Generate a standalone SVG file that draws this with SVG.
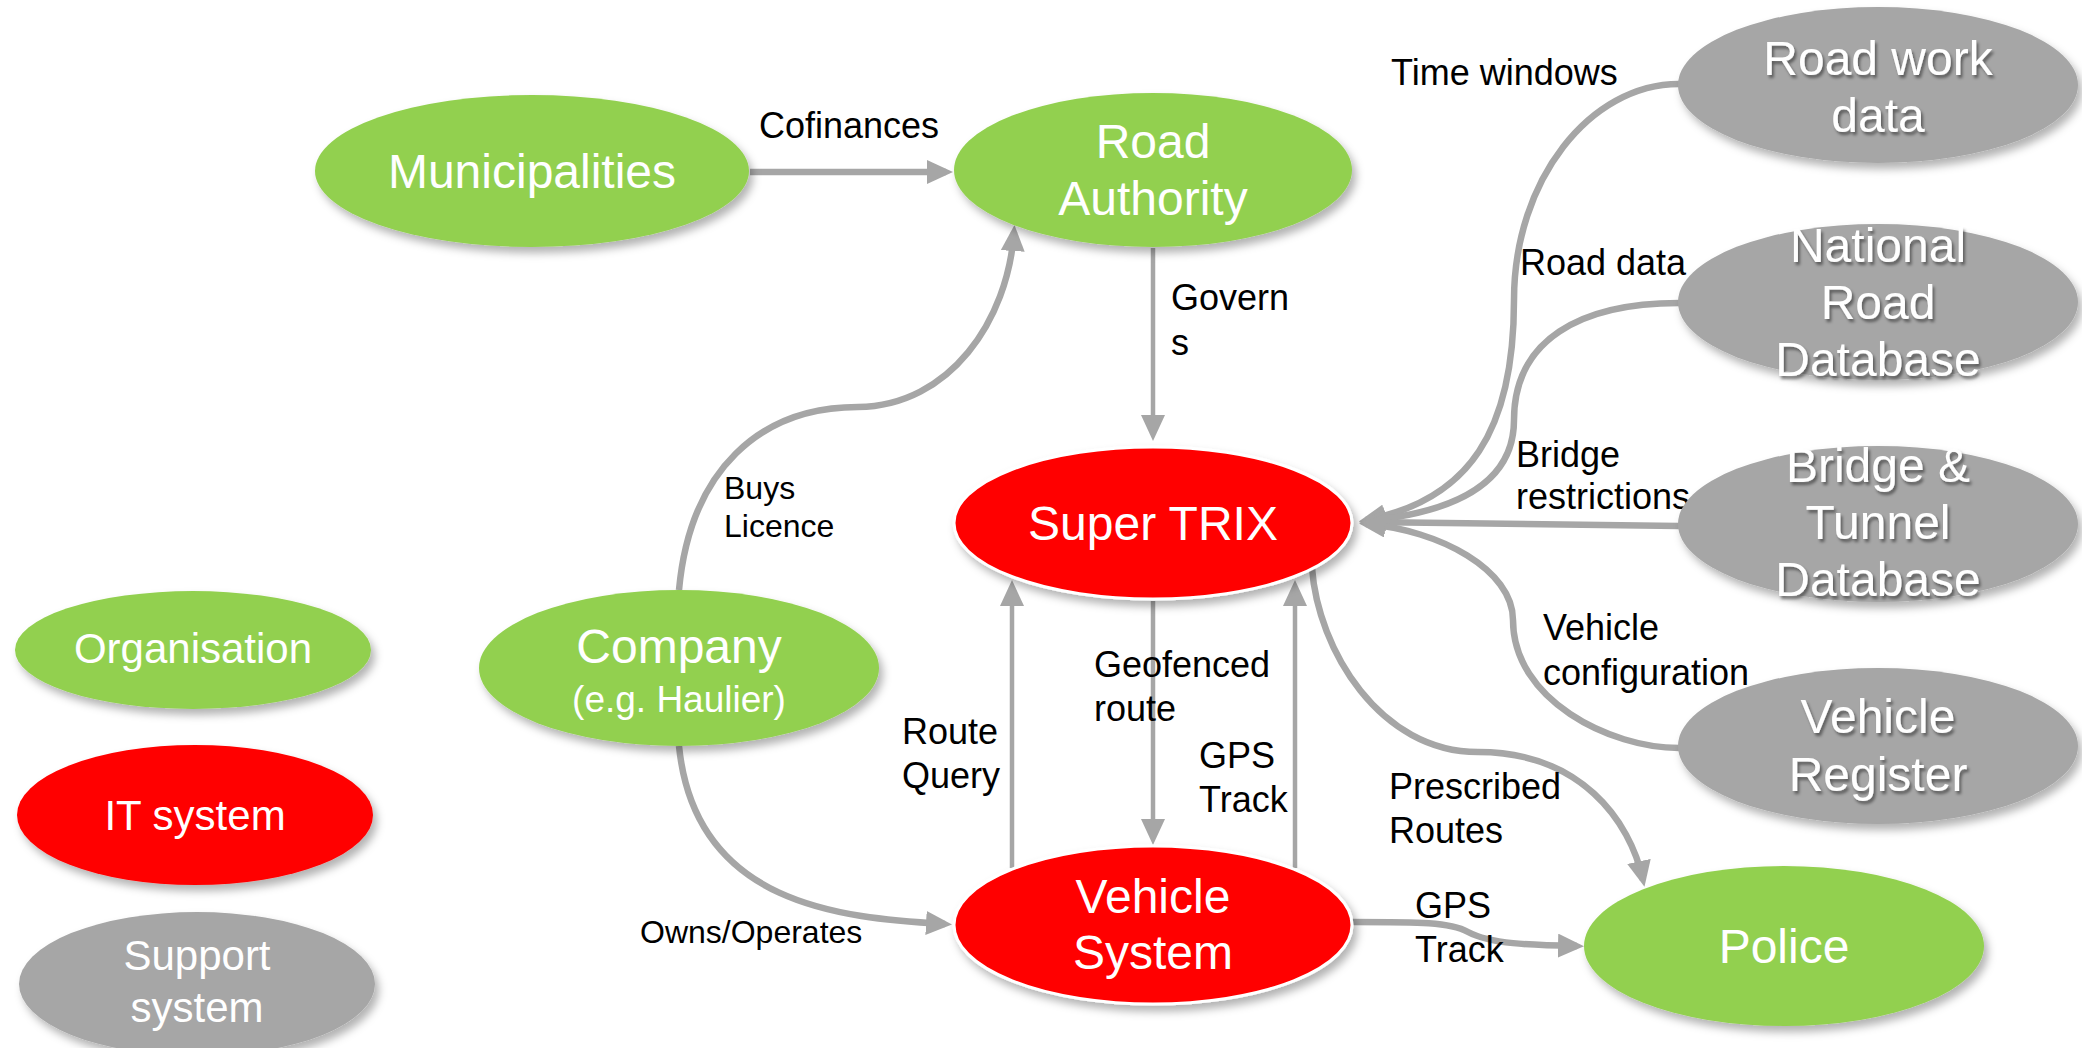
<svg xmlns="http://www.w3.org/2000/svg" width="2082" height="1048" viewBox="0 0 2082 1048">
  <defs>
    <filter id="shadow" x="-10%" y="-10%" width="125%" height="135%">
      <feGaussianBlur in="SourceAlpha" stdDeviation="4"/>
      <feOffset dx="4" dy="6" result="blur"/>
      <feFlood flood-color="#000" flood-opacity="0.3"/>
      <feComposite in2="blur" operator="in"/>
      <feMerge><feMergeNode/><feMergeNode in="SourceGraphic"/></feMerge>
    </filter>
    <filter id="textShadow" x="-10%" y="-20%" width="125%" height="150%">
      <feGaussianBlur in="SourceAlpha" stdDeviation="1.5"/>
      <feOffset dx="2" dy="3" result="blur"/>
      <feFlood flood-color="#000" flood-opacity="0.45"/>
      <feComposite in2="blur" operator="in"/>
      <feMerge><feMergeNode/><feMergeNode in="SourceGraphic"/></feMerge>
    </filter>
    <marker id="arrow" markerUnits="userSpaceOnUse" markerWidth="26" markerHeight="24" refX="19" refY="12" orient="auto">
      <path d="M0,0 L26,12 L0,24 Z" fill="#A6A6A6"/>
    </marker>
    <style>
      .org { fill: #92D050; filter: url(#shadow); }
      .it { fill: #FF0000; stroke: #FFFFFF; stroke-width: 3; filter: url(#shadow); }
      .sup { fill: #A6A6A6; filter: url(#shadow); }
      .nt { font-family: "Liberation Sans", Arial, sans-serif; font-size: 48px; fill: #FFFFFF; text-anchor: middle; }
      .sub { font-size: 37px; }
      .leg { font-size: 42px; }
      .st { filter: url(#textShadow); }
      .lbl { font-family: "Liberation Sans", Arial, sans-serif; font-size: 36px; fill: #000000; }
      .sm { font-size: 32px; }
      .c { fill: none; stroke: #A6A6A6; stroke-width: 6.5; marker-end: url(#arrow); }
      .thin { stroke-width: 4.5; }
    </style>
  </defs>

  <rect width="2082" height="1048" fill="#FFFFFF"/>

  <!-- connectors -->
  <g id="connectors">
    <path class="c" d="M750,172 L946,172"/>
    <path class="c thin" d="M1153,248 L1153,434"/>
    <path class="c" d="M679,590 C690,470 760,407 858,407 C950,406 1008,320 1014,232"/>
    <path class="c" d="M679,746 C695,905 840,918 945,924"/>
    <path class="c thin" d="M1012,868 L1012,587"/>
    <path class="c thin" d="M1153,601 L1153,838"/>
    <path class="c thin" d="M1295,868 L1295,587"/>
    <path class="c" d="M1352,922 C1420,922 1450,922 1468,932 C1490,944 1530,945 1577,946"/>
    <path class="c" d="M1312,568 C1318,650 1380,752 1478,752 C1580,752 1630,820 1643,880"/>
    <path class="c" d="M1679,84 C1590,84 1514,180 1514,300 C1514,430 1470,500 1366,520"/>
    <path class="c" d="M1679,303 C1580,303 1514,340 1514,420 C1514,480 1460,512 1366,521"/>
    <path class="c" d="M1679,526 L1366,522"/>
    <path class="c" d="M1679,748 C1610,748 1513,700 1513,620 C1513,570 1440,530 1366,524"/>
  </g>

  <!-- connector labels -->
  <g id="labels">
    <text class="lbl" x="759" y="138">Cofinances</text>
    <text class="lbl" x="1171" y="310">Govern</text>
    <text class="lbl" x="1171" y="355">s</text>
    <text class="lbl sm" x="724" y="499">Buys</text>
    <text class="lbl sm" x="724" y="537">Licence</text>
    <text class="lbl sm" x="640" y="943">Owns/Operates</text>
    <text class="lbl" x="902" y="744">Route</text>
    <text class="lbl" x="902" y="788">Query</text>
    <text class="lbl" x="1094" y="677">Geofenced</text>
    <text class="lbl" x="1094" y="721">route</text>
    <text class="lbl" x="1199" y="768">GPS</text>
    <text class="lbl" x="1199" y="812">Track</text>
    <text class="lbl" x="1389" y="799">Prescribed</text>
    <text class="lbl" x="1389" y="843">Routes</text>
    <text class="lbl" x="1415" y="918">GPS</text>
    <text class="lbl" x="1415" y="962">Track</text>
    <text class="lbl" x="1391" y="85">Time windows</text>
    <text class="lbl" x="1520" y="275">Road data</text>
    <text class="lbl" x="1516" y="467">Bridge</text>
    <text class="lbl" x="1516" y="509">restrictions</text>
    <text class="lbl" x="1543" y="640">Vehicle</text>
    <text class="lbl" x="1543" y="685">configuration</text>
  </g>

  <!-- organisations -->
  <g id="municipalities">
    <ellipse class="org" cx="532" cy="171" rx="217" ry="76"/>
    <text class="nt" x="532" y="188">Municipalities</text>
  </g>
  <g id="road-authority">
    <ellipse class="org" cx="1153" cy="170" rx="199" ry="77"/>
    <text class="nt" x="1153" y="158">Road</text>
    <text class="nt" x="1153" y="215">Authority</text>
  </g>
  <g id="company">
    <ellipse class="org" cx="679" cy="668" rx="200" ry="78"/>
    <text class="nt" x="679" y="663">Company</text>
    <text class="nt sub" x="679" y="712">(e.g. Haulier)</text>
  </g>
  <g id="police">
    <ellipse class="org" cx="1784" cy="946" rx="200" ry="80"/>
    <text class="nt" x="1784" y="963">Police</text>
  </g>

  <!-- IT systems -->
  <g id="super-trix">
    <ellipse class="it" cx="1153" cy="523" rx="199" ry="76"/>
    <text class="nt" x="1153" y="540">Super TRIX</text>
  </g>
  <g id="vehicle-system">
    <ellipse class="it" cx="1153" cy="925" rx="199" ry="79"/>
    <text class="nt" x="1153" y="913">Vehicle</text>
    <text class="nt" x="1153" y="969">System</text>
  </g>

  <!-- support systems -->
  <g id="road-work-data">
    <ellipse class="sup" cx="1878" cy="85" rx="200" ry="78"/>
    <g class="st">
      <text class="nt" x="1878" y="75">Road work</text>
      <text class="nt" x="1878" y="132">data</text>
    </g>
  </g>
  <g id="national-road-database">
    <ellipse class="sup" cx="1878" cy="302" rx="200" ry="78"/>
    <g class="st">
      <text class="nt" x="1878" y="262">National</text>
      <text class="nt" x="1878" y="319">Road</text>
      <text class="nt" x="1878" y="376">Database</text>
    </g>
  </g>
  <g id="bridge-tunnel-database">
    <ellipse class="sup" cx="1878" cy="524" rx="200" ry="78"/>
    <g class="st">
      <text class="nt" x="1878" y="482">Bridge &amp;</text>
      <text class="nt" x="1878" y="539">Tunnel</text>
      <text class="nt" x="1878" y="596">Database</text>
    </g>
  </g>
  <g id="vehicle-register">
    <ellipse class="sup" cx="1878" cy="746" rx="200" ry="78"/>
    <g class="st">
      <text class="nt" x="1878" y="733">Vehicle</text>
      <text class="nt" x="1878" y="791">Register</text>
    </g>
  </g>

  <!-- legend -->
  <g id="legend-organisation">
    <ellipse class="org" cx="193" cy="650" rx="178" ry="59"/>
    <text class="nt leg" x="193" y="663">Organisation</text>
  </g>
  <g id="legend-it-system">
    <ellipse class="it" cx="195" cy="815" rx="178" ry="70" style="stroke:none"/>
    <text class="nt leg" x="195" y="830">IT system</text>
  </g>
  <g id="legend-support-system">
    <ellipse class="sup" cx="197" cy="984" rx="178" ry="72"/>
    <text class="nt leg" x="197" y="970">Support</text>
    <text class="nt leg" x="197" y="1022">system</text>
  </g>
</svg>
